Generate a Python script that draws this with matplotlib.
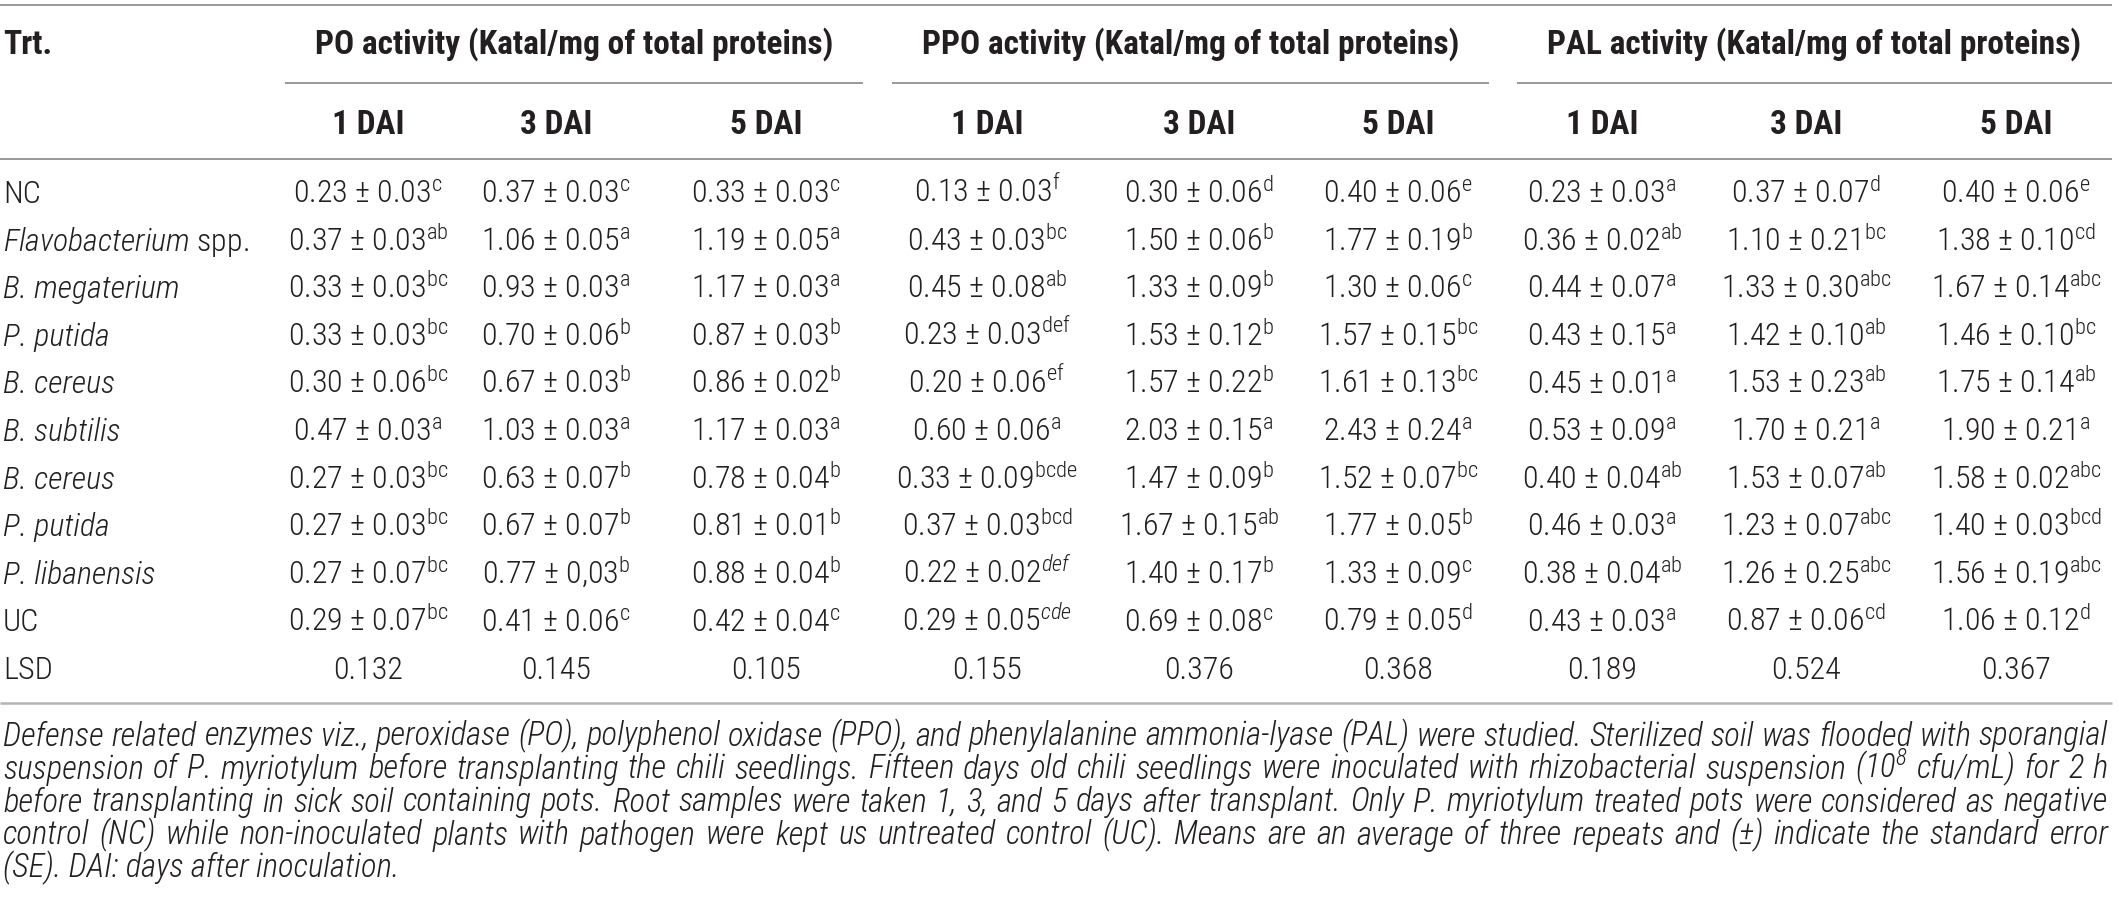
import matplotlib
matplotlib.use("Agg")
import matplotlib.pyplot as plt
from matplotlib import font_manager


def pick_family(prefs):
    names = {f.name for f in font_manager.fontManager.ttflist}
    for p in prefs:
        if p in names:
            return p
    return "Liberation Sans"


FONT = pick_family(["Roboto Condensed", "IBM Plex Sans Condensed", "Fira Sans Condensed",
                    "Archivo Narrow", "Liberation Sans Narrow", "Liberation Sans"])
has_light = any(f.name == FONT and f.weight == 300 for f in font_manager.fontManager.ttflist)
BODY_W = "light" if has_light else "normal"

plt.rcParams["font.family"] = [FONT, "DejaVu Sans"]
plt.rcParams["mathtext.fontset"] = "custom"
plt.rcParams["mathtext.rm"] = FONT + (":light" if has_light else "")
plt.rcParams["mathtext.it"] = FONT + ":italic" + (":light" if has_light else "")
plt.rcParams["mathtext.bf"] = FONT + ":bold"

# ---- data ----
treatments = ["NC", r"$\mathit{Flavobacterium}$ spp.", "B. megaterium", "P. putida",
              "B. cereus", "B. subtilis", "B. cereus", "P. putida", "P. libanensis", "UC"]
treatment_italic = [False, False, True, True, True, True, True, True, True, False]

groups = ["PO activity (Katal/mg of total proteins)",
          "PPO activity (Katal/mg of total proteins)",
          "PAL activity (Katal/mg of total proteins)"]
days = ["1 DAI", "3 DAI", "5 DAI"]

po1_mean = ["0.23", "0.37", "0.33", "0.33", "0.30", "0.47", "0.27", "0.27", "0.27", "0.29"]
po1_se = ["0.03", "0.03", "0.03", "0.03", "0.06", "0.03", "0.03", "0.03", "0.07", "0.07"]
po1_let = ["c", "ab", "bc", "bc", "bc", "a", "bc", "bc", "bc", "bc"]

po3_mean = ["0.37", "1.06", "0.93", "0.70", "0.67", "1.03", "0.63", "0.67", "0.77", "0.41"]
po3_se = ["0.03", "0.05", "0.03", "0.06", "0.03", "0.03", "0.07", "0.07", "0,03", "0.06"]
po3_let = ["c", "a", "a", "b", "b", "a", "b", "b", "b", "c"]

po5_mean = ["0.33", "1.19", "1.17", "0.87", "0.86", "1.17", "0.78", "0.81", "0.88", "0.42"]
po5_se = ["0.03", "0.05", "0.03", "0.03", "0.02", "0.03", "0.04", "0.01", "0.04", "0.04"]
po5_let = ["c", "a", "a", "b", "b", "a", "b", "b", "b", "c"]

ppo1_mean = ["0.13", "0.43", "0.45", "0.23", "0.20", "0.60", "0.33", "0.37", "0.22", "0.29"]
ppo1_se = ["0.03", "0.03", "0.08", "0.03", "0.06", "0.06", "0.09", "0.03", "0.02", "0.05"]
ppo1_let = ["f", "bc", "ab", "def", "ef", "a", "bcde", "bcd", "def", "cde"]

ppo3_mean = ["0.30", "1.50", "1.33", "1.53", "1.57", "2.03", "1.47", "1.67", "1.40", "0.69"]
ppo3_se = ["0.06", "0.06", "0.09", "0.12", "0.22", "0.15", "0.09", "0.15", "0.17", "0.08"]
ppo3_let = ["d", "b", "b", "b", "b", "a", "b", "ab", "b", "c"]

ppo5_mean = ["0.40", "1.77", "1.30", "1.57", "1.61", "2.43", "1.52", "1.77", "1.33", "0.79"]
ppo5_se = ["0.06", "0.19", "0.06", "0.15", "0.13", "0.24", "0.07", "0.05", "0.09", "0.05"]
ppo5_let = ["e", "b", "c", "bc", "bc", "a", "bc", "b", "c", "d"]

pal1_mean = ["0.23", "0.36", "0.44", "0.43", "0.45", "0.53", "0.40", "0.46", "0.38", "0.43"]
pal1_se = ["0.03", "0.02", "0.07", "0.15", "0.01", "0.09", "0.04", "0.03", "0.04", "0.03"]
pal1_let = ["a", "ab", "a", "a", "a", "a", "ab", "a", "ab", "a"]

pal3_mean = ["0.37", "1.10", "1.33", "1.42", "1.53", "1.70", "1.53", "1.23", "1.26", "0.87"]
pal3_se = ["0.07", "0.21", "0.30", "0.10", "0.23", "0.21", "0.07", "0.07", "0.25", "0.06"]
pal3_let = ["d", "bc", "abc", "ab", "ab", "a", "ab", "abc", "abc", "cd"]

pal5_mean = ["0.40", "1.38", "1.67", "1.46", "1.75", "1.90", "1.58", "1.40", "1.56", "1.06"]
pal5_se = ["0.06", "0.10", "0.14", "0.10", "0.14", "0.21", "0.02", "0.03", "0.19", "0.12"]
pal5_let = ["e", "cd", "abc", "bc", "ab", "a", "abc", "bcd", "abc", "d"]

lsd = ["0.132", "0.145", "0.105", "0.155", "0.376", "0.368", "0.189", "0.524", "0.367"]

footnote = [
    "Defense related enzymes viz., peroxidase (PO), polyphenol oxidase (PPO), and phenylalanine "
    "ammonia-lyase (PAL) were studied. Sterilized soil was flooded with sporangial",
    "suspension of P. myriotylum before transplanting the chili seedlings. Fifteen days old chili "
    "seedlings were inoculated with rhizobacterial suspension (10$^{\\mathdefault{8}}$ cfu/mL) for 2 h",
    "before transplanting in sick soil containing pots. Root samples were taken 1, 3, and 5 days "
    "after transplant. Only P. myriotylum treated pots were considered as negative",
    "control (NC) while non-inoculated plants with pathogen were kept us untreated control (UC). "
    "Means are an average of three repeats and (\u00b1) indicate the standard error",
    "(SE). DAI: days after inoculation.",
]

columns = [
    (po1_mean, po1_se, po1_let), (po3_mean, po3_se, po3_let), (po5_mean, po5_se, po5_let),
    (ppo1_mean, ppo1_se, ppo1_let), (ppo3_mean, ppo3_se, ppo3_let), (ppo5_mean, ppo5_se, ppo5_let),
    (pal1_mean, pal1_se, pal1_let), (pal3_mean, pal3_se, pal3_let), (pal5_mean, pal5_se, pal5_let),
]
italic_letters = {(3, 8), (3, 9)}

# ---- layout (pixels) ----
W, H = 2119, 901
TXT = "#231f20"
FS = 23
HFS = 24
col_x = [368, 556, 766, 987, 1199, 1398, 1602, 1806, 2016]
group_span = [(285, 863), (892, 1489), (1517, 2112)]
row_y0, row_step = 192.5, 47.6
base_off = 10.5

fig = plt.figure(figsize=(W / 100, H / 100), dpi=100)
ax = fig.add_axes([0, 0, 1, 1])
ax.set_xlim(0, W)
ax.set_ylim(H, 0)
ax.axis("off")

rule = dict(color="#7d7d7d", lw=1.1, solid_capstyle="butt")
ax.plot([0, 2112], [5, 5], **rule)
for a, b in group_span:
    ax.plot([a, b], [83, 83], **rule)
ax.plot([0, 2112], [159, 159], **rule)
ax.plot([0, 2112], [703, 703], color="#b4b4b4", lw=1.8, solid_capstyle="butt")

# headers
ax.text(3, 43 + base_off, "Trt.", fontsize=HFS, fontweight="bold", color=TXT, va="baseline")
for (a, b), g in zip(group_span, groups):
    ax.text((a + b) / 2, 43 + base_off, g, fontsize=HFS, fontweight="bold", color=TXT,
            ha="center", va="baseline")
for i, x in enumerate(col_x):
    ax.text(x, 123 + base_off, days[i % 3], fontsize=HFS, fontweight="bold", color=TXT,
            ha="center", va="baseline")

# body
for r, name in enumerate(treatments):
    y = row_y0 + r * row_step + base_off
    ax.text(3, y, name, fontsize=FS, fontweight=BODY_W, color=TXT, va="baseline",
            fontstyle="italic" if treatment_italic[r] else "normal")
    for c, (means, ses, lets) in enumerate(columns):
        if (c, r) in italic_letters:
            sup = r"$^{\mathit{%s}}$" % lets[r]
        else:
            sup = r"$^{\mathdefault{%s}}$" % lets[r]
        ax.text(col_x[c], y, f"{means[r]} \u00b1 {ses[r]}" + sup, fontsize=FS,
                fontweight=BODY_W, color=TXT, ha="center", va="baseline")

y = row_y0 + len(treatments) * row_step + base_off
ax.text(3, y, "LSD", fontsize=FS, fontweight=BODY_W, color=TXT, va="baseline")
for c, v in enumerate(lsd):
    ax.text(col_x[c], y, v, fontsize=FS, fontweight=BODY_W, color=TXT, ha="center", va="baseline")

# footnote, justified lines
renderer = fig.canvas.get_renderer()
left, right = 3, 2108


def measure(words, fs):
    out = []
    for w in words:
        t = ax.text(0, 0, w, fontsize=fs, fontstyle="italic", fontweight=BODY_W)
        out.append(t.get_window_extent(renderer).width)
        t.remove()
    return out


# size the footnote so its longest line just fills the width with normal spacing
foot_fs = FS
space_w = measure(["a a"], foot_fs)[0] - 2 * measure(["a"], foot_fs)[0]
longest = max(sum(measure(l.split(" "), foot_fs)) + space_w * (len(l.split(" ")) - 1)
              for l in footnote[:-1])
foot_fs *= (right - left) / longest

for i, line in enumerate(footnote):
    yb = 735 + i * 33 + base_off
    if i == len(footnote) - 1:
        ax.text(left, yb, line, fontsize=foot_fs, fontstyle="italic", fontweight=BODY_W,
                color=TXT, va="baseline")
        continue
    words = line.split(" ")
    widths = measure(words, foot_fs)
    gap = (right - left - sum(widths)) / (len(words) - 1)
    x = left
    for w, wd in zip(words, widths):
        ax.text(x, yb, w, fontsize=foot_fs, fontstyle="italic", fontweight=BODY_W,
                color=TXT, va="baseline")
        x += wd + gap

fig.savefig("out.png", dpi=100)
